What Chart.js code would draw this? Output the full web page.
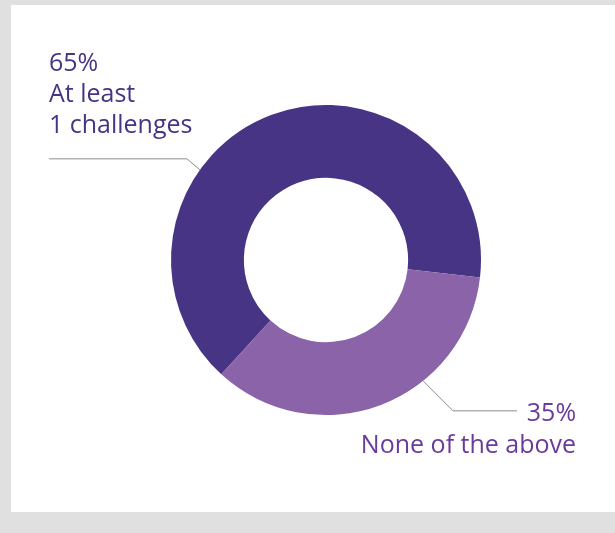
<!DOCTYPE html>
<html>
<head>
<meta charset="utf-8">
<script src="https://cdn.jsdelivr.net/npm/chart.js@4/dist/chart.umd.min.js"></script>
<style>
  html, body { margin: 0; padding: 0; background: #e0e0e0; }
  body { width: 615px; height: 533px; position: relative; overflow: hidden; }
  #panel { position: absolute; left: 11px; top: 5px; width: 604px; height: 507px; background: #ffffff; }
  #wrap { position: absolute; left: 0; top: 0; width: 615px; height: 533px; }
</style>
</head>
<body>
<div id="panel"></div>
<div id="wrap"><canvas id="c" width="615" height="533"></canvas></div>
<script>
const categories = ["At least\n1 challenges", "None of the above"];
const values = [65, 35];
const valueLabels = ["65%", "35%"];
const colors = ["#473484", "#8a63a8"];
const textColors = ["#473484", "#6a3b9c"];

const FONT = '25px "Open Sans", sans-serif';

const leaderPlugin = {
  id: 'leaders',
  afterDatasetsDraw(chart) {
    const ctx = chart.ctx;
    const meta = chart.getDatasetMeta(0);
    meta.data.forEach((arc, i) => {
      const p = arc.getProps(['x', 'y', 'startAngle', 'endAngle', 'outerRadius'], true);
      const a = p.startAngle + 0.355 * (p.endAngle - p.startAngle);
      const ax = p.x + Math.cos(a) * p.outerRadius;
      const ay = p.y + Math.sin(a) * p.outerRadius;
      const left = Math.cos(a) < 0;
      let ex, ey, hx;
      if (left) { ex = ax - 13; ey = ay - 11; hx = ex - 138; }
      else { ex = ax + 30; ey = ay + 30; hx = ex + 64; }
      ctx.save();
      ctx.strokeStyle = '#8c8c8c';
      ctx.lineWidth = 1;
      ctx.beginPath();
      ctx.moveTo(ax, ay);
      ctx.lineTo(ex, ey);
      ctx.lineTo(hx, ey);
      ctx.stroke();
      ctx.fillStyle = textColors[i];
      ctx.font = FONT;
      ctx.textBaseline = 'alphabetic';
      const lines = [valueLabels[i]].concat(categories[i].split('\n'));
      const lh = 31;
      if (left) {
        ctx.textAlign = 'left';
        const baseLast = ey - 26;
        lines.forEach((t, k) => {
          ctx.fillText(t, hx, baseLast - (lines.length - 1 - k) * lh);
        });
      } else {
        ctx.textAlign = 'right';
        ctx.fillText(lines[0], hx + 59, ey + 10.5);
        ctx.textAlign = 'right';
        ctx.fillText(lines[1], hx + 59, ey + 42);
      }
      ctx.restore();
    });
  }
};

new Chart(document.getElementById('c'), {
  type: 'doughnut',
  data: {
    labels: categories,
    datasets: [{
      data: values,
      backgroundColor: colors,
      borderWidth: 0,
      hoverOffset: 0
    }]
  },
  options: {
    responsive: false,
    animation: false,
    rotation: 222.5,
    cutout: '53%',
    layout: { padding: { left: 171, right: 134, top: 105, bottom: 118 } },
    plugins: {
      legend: { display: false },
      tooltip: { enabled: false }
    }
  },
  plugins: [leaderPlugin]
});
</script>
</body>
</html>
